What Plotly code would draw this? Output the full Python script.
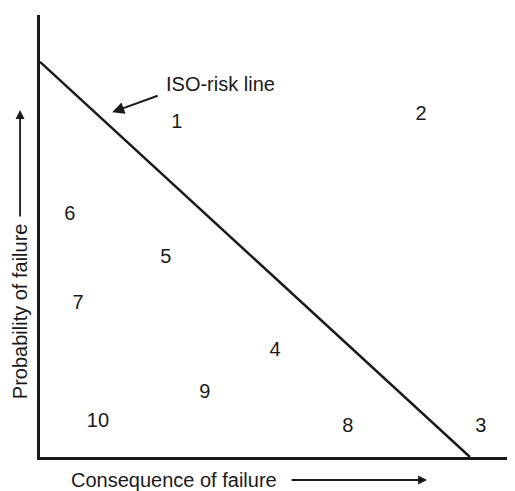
import plotly.graph_objects as go

# Item labels and positions (consequence, probability) in arbitrary 0-10 units
labels = ["1", "2", "3", "4", "5", "6", "7", "8", "9", "10"]
consequence = [2.88, 8.02, 9.28, 4.95, 2.65, 0.63, 0.80, 6.48, 3.47, 1.22]
probability = [7.56, 7.74, 0.68, 2.40, 4.50, 5.48, 3.47, 0.68, 1.45, 0.79]

# ISO-risk line endpoints
iso_x = [0.0, 9.05]
iso_y = [8.94, 0.0]

FONT = "Liberation Sans, Arial, sans-serif"
INK = "#1a1a1a"
FS = 20

fig = go.Figure()
fig.add_trace(go.Scatter(x=iso_x, y=iso_y, mode="lines",
                         line=dict(color=INK, width=2.5), hoverinfo="skip"))
fig.add_trace(go.Scatter(x=consequence, y=probability, mode="text", text=labels,
                         textfont=dict(family=FONT, size=FS, color=INK),
                         textposition="middle center", hoverinfo="skip"))

# ISO-risk line annotation with arrow
fig.add_annotation(x=1.52, y=7.8, xref="x", yref="y", ax=47, ay=-17,
                   text="", showarrow=True, arrowhead=2, arrowsize=1.2,
                   arrowwidth=2, arrowcolor=INK)
fig.add_annotation(x=2.62, y=8.43, xref="x", yref="y", text="ISO-risk line",
                   showarrow=False, xanchor="left", yanchor="middle",
                   font=dict(family=FONT, size=FS, color=INK))

# Axis titles with arrows
fig.add_annotation(x=0.282, y=-0.052, xref="paper", yref="paper",
                   text="Consequence of failure", showarrow=False,
                   xanchor="center", yanchor="middle",
                   font=dict(family=FONT, size=FS, color=INK))
fig.add_annotation(x=0.815, y=-0.052, xref="paper", yref="paper",
                   ax=-137, ay=0, text="", showarrow=True, arrowhead=2,
                   arrowsize=1, arrowwidth=1.8, arrowcolor=INK)
fig.add_annotation(x=-0.042, y=0.33, xref="paper", yref="paper",
                   text="Probability of failure", showarrow=False, textangle=-90,
                   xanchor="center", yanchor="middle",
                   font=dict(family=FONT, size=FS, color=INK))
fig.add_annotation(x=-0.042, y=0.785, xref="paper", yref="paper",
                   ax=0, ay=108, text="", showarrow=True, arrowhead=2,
                   arrowsize=1, arrowwidth=1.8, arrowcolor=INK)

fig.update_layout(
    width=507, height=483,
    margin=dict(l=32, r=0, t=7, b=34, autoexpand=False),
    paper_bgcolor="white", plot_bgcolor="white",
    showlegend=False,
    xaxis=dict(range=[0, 10], showgrid=False, zeroline=False, showticklabels=False,
               ticks="", showline=True, linecolor=INK, linewidth=3),
    yaxis=dict(range=[0, 10], showgrid=False, zeroline=False, showticklabels=False,
               ticks="", showline=True, linecolor=INK, linewidth=3),
)

fig.write_html("out.html")
